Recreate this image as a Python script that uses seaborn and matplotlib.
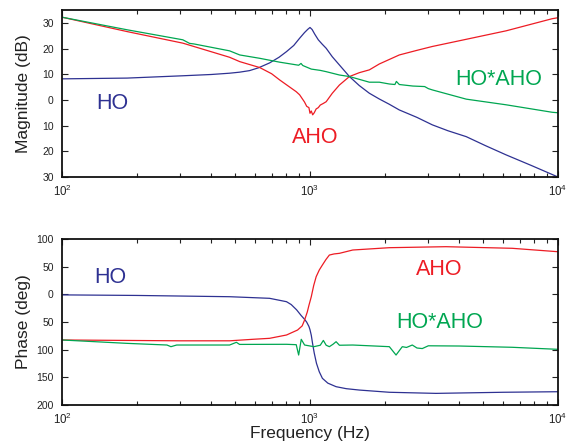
import numpy as np
import pandas as pd
import matplotlib
matplotlib.use("Agg")
import matplotlib.pyplot as plt
import seaborn as sns
from matplotlib.ticker import FixedLocator, FixedFormatter, LogLocator, NullFormatter

# ---------------- data ----------------
# Magnitude (dB)
mag_ho_f = [100, 183, 307, 400, 474, 520, 570, 620, 687, 750, 804, 860, 908, 950, 980, 1000, 1020, 1045, 1080, 1120, 1162, 1230, 1314, 1442, 1580, 1735, 1900, 2089, 2291, 2700, 3113, 3600, 4267, 5100, 6180, 7800, 10000]
mag_ho_v = [8.2, 8.5, 9.4, 9.9, 10.4, 10.8, 11.4, 12.5, 14.4, 16.6, 18.8, 21.2, 24.0, 26.2, 27.5, 28.2, 27.4, 25.6, 23.4, 21.7, 20.1, 16.8, 13.6, 9.1, 5.6, 2.6, 0.4, -1.7, -3.9, -6.8, -9.7, -12.0, -14.3, -17.8, -21.4, -25.5, -30.0]

mag_aho_f = [100, 183, 307, 474, 521, 627, 700, 754, 820, 880, 908, 950, 970, 990, 1000, 1012, 1025, 1040, 1059, 1080, 1100, 1130, 1162, 1230, 1314, 1442, 1580, 1735, 1904, 2291, 2700, 3113, 4267, 6180, 9464, 10000]
mag_aho_v = [32.2, 26.6, 22.1, 16.6, 14.9, 12.6, 10.2, 7.8, 5.3, 3.2, 2.0, -0.8, -2.5, -3.0, -5.2, -4.3, -5.8, -5.0, -3.5, -3.0, -2.0, -1.4, -0.7, 2.6, 5.8, 9.1, 10.6, 11.7, 14.0, 17.5, 19.3, 20.8, 23.6, 26.9, 31.6, 32.0]

mag_prod_f = [100, 183, 307, 327, 340, 474, 521, 627, 754, 900, 920, 935, 1012, 1100, 1162, 1314, 1442, 1735, 1904, 2089, 2200, 2230, 2291, 2600, 2900, 3000, 3113, 4267, 6180, 9464, 10000]
mag_prod_v = [32.2, 27.3, 23.4, 22.0, 21.8, 19.1, 17.5, 16.2, 14.7, 13.5, 14.2, 13.4, 12.0, 11.5, 11.0, 9.7, 9.1, 6.9, 6.9, 6.2, 6.0, 7.2, 6.0, 5.4, 5.2, 4.4, 3.9, 0.3, -1.9, -4.8, -5.0]

# Phase (deg)
ph_ho_f = [100, 200, 474, 687, 804, 840, 883, 920, 950, 969, 990, 1000, 1012, 1024, 1040, 1062, 1090, 1122, 1180, 1274, 1400, 1582, 2089, 3221, 6000, 10000]
ph_ho_v = [-1, -2, -4.3, -7.2, -13.3, -18.5, -28.0, -38.0, -45.0, -50.0, -58.0, -64.0, -74.0, -88.6, -106.0, -124.7, -140.0, -151.8, -160.5, -166.9, -170.5, -173, -177, -179, -177, -176]

ph_aho_f = [100, 300, 474, 587, 687, 804, 891, 930, 951, 975, 990, 1012, 1035, 1059, 1090, 1122, 1160, 1197, 1250, 1314, 1487, 2089, 3532, 6533, 10000]
ph_aho_v = [-82.5, -84, -84, -81.3, -79.5, -73.5, -64.5, -57.0, -46.4, -32.0, -20.0, -4.3, 16.0, 31.9, 44.0, 53, 63.0, 71, 73.0, 74.1, 80.1, 84.3, 86.1, 83.2, 77]

ph_prod_f = [100, 183, 265, 275, 290, 474, 505, 520, 804, 880, 900, 922, 951, 1037, 1100, 1132, 1162, 1197, 1240, 1274, 1314, 1487, 2089, 2223, 2356, 2450, 2585, 2700, 2836, 3000, 3997, 6533, 10000]
ph_prod_v = [-82.5, -88.6, -91.6, -94.6, -91.6, -91.6, -86.7, -90.5, -90.3, -91, -109.7, -81.3, -91.6, -94.6, -92, -83.3, -92, -94.6, -90, -85.6, -92, -91.6, -94.6, -109.7, -94.6, -96, -91.6, -97, -98, -93, -93.4, -95.7, -99.4]

series_names = ["HO", "AHO", "HO*AHO"]
colors = {"HO": "#2e3192", "AHO": "#ed1c24", "HO*AHO": "#00a651"}

mag_yticks = [-30, -20, -10, 0, 10, 20, 30]
mag_yticklabels = ["30", "20", "10", "0", "10", "20", "30"]
ph_yticks = [-200, -150, -100, -50, 0, 50, 100]
ph_yticklabels = ["200", "150", "100", "50", "0", "50", "100"]

# label positions (data coords: frequency, value at baseline)
mag_labels = [("HO", 159, -3.5), ("AHO", 1047, -16.9), ("HO*AHO", 5780, 5.85)]
ph_labels = [("HO", 157, 21.0), ("AHO", 3313, 34.9), ("HO*AHO", 3341, -60.9)]


def long_df(fs, vs):
    rows = []
    for name, f, v in zip(series_names, fs, vs):
        for fi, vi in zip(f, v):
            rows.append({"f": fi, "v": vi, "series": name})
    return pd.DataFrame(rows)


df_mag = long_df([mag_ho_f, mag_aho_f, mag_prod_f], [mag_ho_v, mag_aho_v, mag_prod_v])
df_ph = long_df([ph_ho_f, ph_aho_f, ph_prod_f], [ph_ho_v, ph_aho_v, ph_prod_v])

# ---------------- styling ----------------
sns.set_style("ticks")
plt.rcParams["font.family"] = ["Liberation Sans", "DejaVu Sans"]
plt.rcParams["mathtext.fontset"] = "custom"
plt.rcParams["mathtext.rm"] = "Liberation Sans"
plt.rcParams["mathtext.it"] = "Liberation Sans"

fig = plt.figure(figsize=(5.71, 4.45), dpi=100)
ax1 = fig.add_axes([62 / 571, 1 - 177 / 445, 496 / 571, 167 / 445])
ax2 = fig.add_axes([62 / 571, 1 - 405 / 445, 496 / 571, 166 / 445])


def style_axis(ax, df, yticks, yticklabels, ylim, ylabel, labels):
    sns.lineplot(data=df, x="f", y="v", hue="series", palette=colors,
                 hue_order=series_names, estimator=None, sort=True,
                 linewidth=0.9, legend=False, ax=ax)
    ax.set_xscale("log")
    ax.set_xlim(100, 10000)
    ax.set_ylim(*ylim)
    ax.yaxis.set_major_locator(FixedLocator(yticks))
    ax.yaxis.set_major_formatter(FixedFormatter(yticklabels))
    ax.xaxis.set_major_locator(LogLocator(base=10, numticks=10))
    ax.xaxis.set_minor_locator(LogLocator(base=10, subs=np.arange(2, 10), numticks=10))
    ax.xaxis.set_minor_formatter(NullFormatter())
    ax.tick_params(axis="both", which="both", direction="in", top=True, right=True,
                   width=0.8, colors="#222222", labelcolor="#222222")
    ax.tick_params(axis="y", which="major", length=4.5, labelsize=7.5, pad=6)
    ax.tick_params(axis="x", which="major", length=4.5, labelsize=8.3, pad=5)
    ax.tick_params(axis="x", which="minor", length=2.8)
    for sp in ax.spines.values():
        sp.set_linewidth(1.3)
        sp.set_color("#111111")
        sp.set_visible(True)
    ax.set_ylabel(ylabel, fontsize=12.5, color="#222222")
    ax.yaxis.set_label_coords(-0.062, 0.5)
    ax.set_xlabel("")
    for name, fx, vy in labels:
        ax.text(fx, vy, name, color=colors[name], fontsize=15.5, ha="center", va="baseline")


style_axis(ax1, df_mag, mag_yticks, mag_yticklabels, (-30, 35), "Magnitude (dB)", mag_labels)
style_axis(ax2, df_ph, ph_yticks, ph_yticklabels, (-200, 100), "Phase (deg)", ph_labels)
ax2.set_xlabel("Frequency (Hz)", fontsize=12.5, color="#222222")
ax2.xaxis.set_label_coords(0.5, -0.127)

fig.savefig("out.png", dpi=100)
